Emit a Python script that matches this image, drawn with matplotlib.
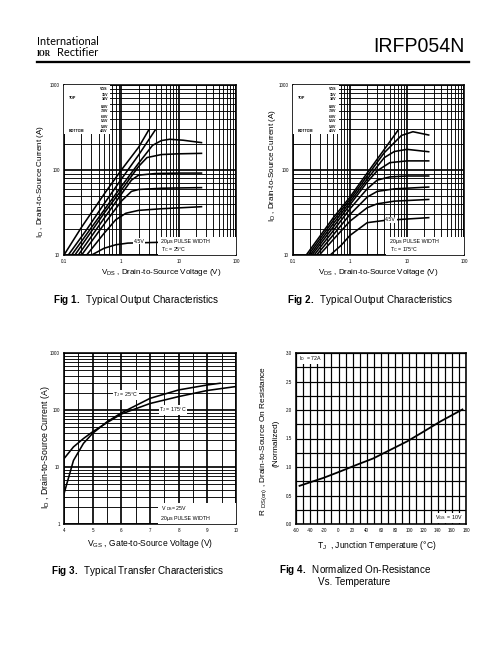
import matplotlib
matplotlib.use('Agg')
from matplotlib import pyplot as plt
from matplotlib.patches import Rectangle
from matplotlib.ticker import LogLocator, MultipleLocator, NullFormatter

plt.rcParams['font.family'] = ['Liberation Sans', 'DejaVu Sans']
plt.rcParams['mathtext.default'] = 'regular'
plt.rcParams['mathtext.fontset'] = 'custom'
plt.rcParams['mathtext.rm'] = 'Liberation Sans'
plt.rcParams['mathtext.it'] = 'Liberation Sans:italic'
plt.rcParams['mathtext.bf'] = 'Liberation Sans:bold'
plt.rcParams['axes.unicode_minus'] = False

W, H = 504, 648

vgs_labels = ['15V', '10V', '8.0V', '7.0V', '6.0V', '5.5V', '5.0V', '4.5V']

# Fig 1 : output characteristics, Tc = 25 C  (one list per VGS, top to bottom)
out25_vds = [
    [0.1, 0.2, 0.5, 1, 2, 3.0],
    [0.119, 0.25, 0.5, 1, 2, 3.9],
    [0.136, 0.3, 0.6, 1, 2, 3.5, 5, 7, 12, 25],
    [0.155, 0.5, 1, 2, 2.8, 5, 10, 25],
    [0.178, 0.5, 1, 1.5, 2, 4, 10, 25],
    [0.203, 0.5, 1, 1.5, 2, 5, 10, 25],
    [0.249, 0.5, 0.8, 1.2, 2, 5, 25],
    [0.304, 0.5, 0.8, 1.3, 3, 25],
]
out25_id = [
    [10, 21, 52, 100, 185, 295],
    [10, 20, 40, 78, 150, 295],
    [10, 21, 40, 64, 120, 195, 222, 230, 224, 210],
    [10, 31, 58, 110, 140, 152, 155, 157],
    [10, 27, 52, 76, 87, 91, 92, 92],
    [10, 23, 43, 56, 59, 61, 61.5, 62],
    [10, 18, 26, 31, 33.5, 35, 37],
    [10, 12, 13.2, 13.8, 14, 14.5],
]

# Fig 2 : output characteristics, Tc = 175 C
out175_vds = [
    [0.171, 0.5, 1, 2, 4, 7],
    [0.185, 0.5, 1, 2, 4, 8, 12.7, 24],
    [0.2, 0.5, 1, 2, 4, 6, 10, 24],
    [0.215, 0.5, 1, 2, 3, 5, 10, 24],
    [0.235, 0.5, 1, 2, 3, 5, 10, 24],
    [0.26, 0.5, 1, 2, 3, 6, 24],
    [0.29, 0.5, 1, 2, 3, 6, 24],
    [0.45, 0.7, 1, 2, 4, 10, 24],
]
out175_id = [
    [10, 27, 48, 92, 175, 295],
    [10, 25, 45, 85, 160, 255, 282, 258],
    [10, 23, 42, 78, 140, 165, 175, 164],
    [10, 21, 39, 72, 98, 122, 128, 128],
    [10, 19, 35, 60, 76, 83, 85, 85],
    [10, 17, 30, 48, 56, 60, 63],
    [10, 15, 25, 36, 40, 43, 45],
    [10, 13, 17, 24, 25.5, 26.5, 27.5],
]

# Fig 3 : transfer characteristics
vgs_25 = [4.0, 4.33, 4.68, 5.0, 5.5, 6.0, 7.0, 8.0, 9.0, 9.45]
id_25 = [3.4, 13, 26, 39, 62, 89, 160, 225, 275, 295]
vgs_175 = [4.0, 4.33, 4.68, 5.0, 5.5, 6.0, 7.0, 8.0, 9.0, 10.0]
id_175 = [14, 22.5, 31.6, 41.5, 60, 85, 130, 172, 220, 258]

# Fig 4 : normalized on-resistance vs temperature
tj = [-55, -21, 2, 26, 49, 73, 97, 120, 144, 175]
rds_norm = [0.67, 0.81, 0.92, 1.04, 1.15, 1.30, 1.45, 1.62, 1.80, 2.01]

fig = plt.figure(figsize=(W / 72, H / 72), dpi=72)


def ax_at(x0, y0, x1, y1):
    return fig.add_axes([x0 / W, 1 - y1 / H, (x1 - x0) / W, (y1 - y0) / H])


def ftext(x, y, s, **kw):
    fig.text(x / W, 1 - y / H, s, **kw)


def style(ax):
    ax.grid(which='major', color='black', lw=1.7)
    ax.grid(which='minor', color='black', lw=0.9)
    ax.tick_params(which='both', length=0, labelsize=4.5, pad=4)
    for s in ax.spines.values():
        s.set_linewidth(1.6)


def output_chart(ax, vds, ids, tc_text, label45_at):
    ax.set_xscale('log')
    ax.set_yscale('log')
    ax.set_xlim(0.1, 100)
    ax.set_ylim(10, 1000)
    for v, i in zip(vds, ids):
        ax.plot(v, i, color='black', lw=1.6, zorder=2)
    ax.set_xticks([0.1, 1, 10, 100], ['0.1', '1', '10', '100'])
    ax.set_yticks([10, 100, 1000], ['10', '100', '1000'])
    ax.xaxis.set_minor_locator(LogLocator(subs=range(2, 10)))
    ax.yaxis.set_minor_locator(LogLocator(subs=range(2, 10)))
    ax.xaxis.set_minor_formatter(NullFormatter())
    ax.yaxis.set_minor_formatter(NullFormatter())
    style(ax)
    # legend block
    ax.add_patch(Rectangle((0, 0.71), 0.27, 0.29, transform=ax.transAxes,
                           facecolor='white', edgecolor='none', zorder=3))
    kw = dict(transform=ax.transAxes, fontsize=3.6, weight='bold', zorder=4,
              ha='right', va='center')
    ax.text(0.255, 0.975, 'VGS', **kw)
    ys = [0.94, 0.915, 0.87, 0.845, 0.81, 0.79, 0.755, 0.73]
    for y, lab in zip(ys, vgs_labels):
        ax.text(0.255, y, lab, **kw)
    kw['ha'] = 'left'
    ax.text(0.03, 0.925, 'TOP', **kw)
    ax.text(0.03, 0.73, 'BOTTOM', **kw)
    # pulse width box
    ax.add_patch(Rectangle((0.545, 0), 0.455, 0.105, transform=ax.transAxes,
                           facecolor='white', edgecolor='none', zorder=3))
    ax.text(0.565, 0.078, '20µs PULSE WIDTH', transform=ax.transAxes,
            fontsize=5.3, zorder=4, va='center')
    ax.text(0.565, 0.03, tc_text, transform=ax.transAxes,
            fontsize=5.3, zorder=4, va='center')
    ax.text(label45_at[0], label45_at[1], '4.5V', fontsize=5.3, zorder=4,
            ha='center', va='center',
            bbox=dict(facecolor='white', edgecolor='none', pad=0.6))


# header
ftext(37, 45, 'International', fontsize=11, family=['Lato', 'DejaVu Sans'])
ftext(37, 56, 'IOR', fontsize=7.5, weight='bold', family=['Liberation Serif'])
ftext(57, 56, 'Rectifier', fontsize=11, family=['Lato', 'DejaVu Sans'])
ftext(465, 47, 'IRFP054N', fontsize=19.5, ha='right', va='center')
fig.add_artist(plt.Line2D([37 / W, 469 / W], [1 - 61.5 / H, 1 - 61.5 / H],
                          color='black', lw=2.3))

# Fig 1
ax1 = ax_at(64, 85, 236, 255)
output_chart(ax1, out25_vds, out25_id, r'T$_C$ = 25°C', (2.07, 14.5))
ftext(40, 181, r'I$_D$ , Drain-to-Source Current (A)', fontsize=8,
      rotation=90, ha='center', va='center')
ftext(161, 272, r'V$_{DS}$ , Drain-to-Source Voltage (V)', fontsize=8,
      ha='center', va='center')

# Fig 2
ax2 = ax_at(293, 85, 464, 255)
output_chart(ax2, out175_vds, out175_id, r'T$_C$ = 175°C', (5.2, 26))
ftext(272, 165, r'I$_D$ , Drain-to-Source Current (A)', fontsize=8,
      rotation=90, ha='center', va='center')
ftext(378, 272, r'V$_{DS}$ , Drain-to-Source Voltage (V)', fontsize=8,
      ha='center', va='center')

ftext(53, 300, r'$\mathbf{Fig\ 1.}$  Typical Output Characteristics',
      fontsize=9.9, va='center')
ftext(287, 300, r'$\mathbf{Fig\ 2.}$  Typical Output Characteristics',
      fontsize=9.9, va='center')

# Fig 3
ax3 = ax_at(64, 353, 236, 524)
ax3.set_yscale('log')
ax3.set_xlim(4, 10)
ax3.set_ylim(1, 1000)
ax3.plot(vgs_25, id_25, color='black', lw=1.6, zorder=2)
ax3.plot(vgs_175, id_175, color='black', lw=1.6, zorder=2)
ax3.set_xticks(range(4, 11))
ax3.xaxis.set_minor_locator(MultipleLocator(0.5))
ax3.set_yticks([1, 10, 100, 1000], ['1', '10', '100', '1000'])
ax3.yaxis.set_minor_locator(LogLocator(subs=range(2, 10)))
ax3.yaxis.set_minor_formatter(NullFormatter())
style(ax3)
ax3.text(6.15, 184, r'T$_J$ = 25°C', fontsize=5.3, ha='center', va='center',
         zorder=4, bbox=dict(facecolor='white', edgecolor='none', pad=0.6))
ax3.text(7.8, 100, r'T$_J$ = 175°C', fontsize=5.3, ha='center', va='center',
         zorder=4, bbox=dict(facecolor='white', edgecolor='none', pad=0.6))
ax3.add_patch(Rectangle((0.545, 0), 0.455, 0.125, transform=ax3.transAxes,
                        facecolor='white', edgecolor='none', zorder=3))
ax3.text(0.565, 0.092, r'V $_{DS}$= 25V', transform=ax3.transAxes,
         fontsize=5.3, zorder=4, va='center')
ax3.text(0.565, 0.035, '20µs PULSE WIDTH', transform=ax3.transAxes,
         fontsize=5.3, zorder=4, va='center')
ftext(45, 447, r'I$_D$ , Drain-to-Source Current (A)', fontsize=8.8,
      rotation=90, ha='center', va='center')
ftext(150, 544, r'V$_{GS}$ , Gate-to-Source Voltage (V)', fontsize=8.5,
      ha='center', va='center')

# Fig 4
ax4 = ax_at(296, 353, 466, 524)
ax4.set_xlim(-60, 180)
ax4.set_ylim(0, 3.0)
ax4.plot(tj, rds_norm, color='black', lw=1.8, zorder=2)
ax4.set_xticks(range(-60, 181, 20))
ax4.xaxis.set_minor_locator(MultipleLocator(10))
ax4.set_yticks([0, 0.5, 1, 1.5, 2, 2.5, 3],
               ['0.0', '0.5', '1.0', '1.5', '2.0', '2.5', '3.0'])
ax4.yaxis.set_minor_locator(MultipleLocator(0.25))
style(ax4)
ax4.grid(which='major', color='black', lw=1.2)
ax4.grid(which='minor', color='black', lw=1.2)
ax4.text(0.02, 0.965, r'I$_D$  = 72A', transform=ax4.transAxes, fontsize=5.3,
         va='center', zorder=4,
         bbox=dict(facecolor='white', edgecolor='none', pad=0.8))
ax4.text(0.98, 0.035, r'V$_{GS}$  = 10V', transform=ax4.transAxes,
         fontsize=5.3, ha='right', va='center', zorder=4,
         bbox=dict(facecolor='white', edgecolor='none', pad=0.8))
ftext(264, 441, r'R $_{DS(on)}$ , Drain-to-Source On Resistance',
      fontsize=8.3, rotation=90, ha='center', va='center')
ftext(276, 443, '(Normalized)', fontsize=8.3, rotation=90,
      ha='center', va='center')
ftext(377, 545, r'T$_J$  , Junction Temperature (°C)', fontsize=8.5,
      ha='center', va='center')

ftext(51, 571, r'$\mathbf{Fig\ 3.}$  Typical Transfer Characteristics',
      fontsize=9.9, va='center')
ftext(279, 570, r'$\mathbf{Fig\ 4.}$  Normalized On-Resistance',
      fontsize=9.9, va='center')
ftext(318, 582, 'Vs. Temperature', fontsize=9.9, va='center')

fig.savefig('out.png', dpi=72)
